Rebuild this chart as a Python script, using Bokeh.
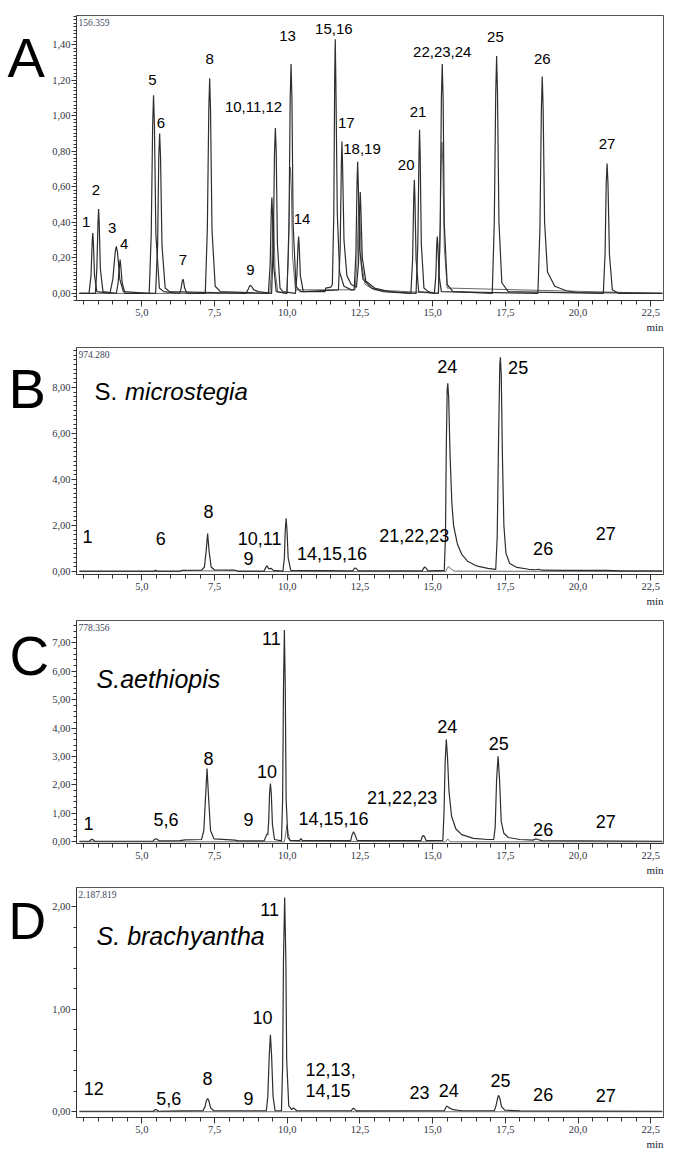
from bokeh.plotting import figure
from bokeh.layouts import column, row
from bokeh.models import Range1d, SingleIntervalTicker, CustomJSTickFormatter, Label, Title
from bokeh.core.properties import value
from bokeh.embed import file_html
from bokeh.resources import INLINE

X_START, X_END = 2.75, 22.94

# ---------------- Panel A (standards overlay) ----------------
A1 = [(2.85,0.0),(3.18,0.0),(3.25,0.10),(3.29,0.29),(3.31,0.34),(3.33,0.29),(3.37,0.10),(3.45,0.01),
      (3.90,0.0),(4.00,0.08),(4.08,0.23),(4.12,0.265),(4.16,0.23),(4.24,0.08),(4.36,0.01),
      (5.25,0.0),(5.32,0.33),(5.37,0.95),(5.40,1.115),(5.43,0.95),(5.48,0.33),(5.60,0.03),(5.75,0.01),
      (6.30,0.0),(6.35,0.03),(6.39,0.07),(6.41,0.08),(6.43,0.07),(6.47,0.03),(6.55,0.0),
      (7.18,0.0),(7.25,0.36),(7.30,1.03),(7.33,1.21),(7.36,1.03),(7.41,0.36),(7.52,0.04),(7.70,0.01),
      (9.35,0.0),(9.41,0.16),(9.45,0.46),(9.47,0.54),(9.49,0.46),(9.53,0.16),(9.62,0.01),
      (9.99,0.0),(10.06,0.39),(10.10,1.10),(10.13,1.29),(10.16,1.10),(10.20,0.39),(10.30,0.04),(10.45,0.01),
      (11.30,0.01),(11.32,0.03),(11.50,0.035),(11.55,0.05),(11.60,0.45),(11.63,1.20),(11.65,1.43),(11.67,1.20),
      (11.72,0.45),(11.80,0.12),(11.95,0.04),(12.20,0.02),
      (12.30,0.02),(12.36,0.22),(12.40,0.63),(12.42,0.74),(12.44,0.63),(12.49,0.25),(12.60,0.08),(12.90,0.03),(13.30,0.01),
      (14.25,0.0),(14.31,0.19),(14.35,0.54),(14.37,0.64),(14.39,0.54),(14.43,0.19),(14.52,0.01),
      (15.20,0.0),(15.26,0.39),(15.30,1.10),(15.33,1.29),(15.36,1.10),(15.40,0.39),(15.50,0.05),(15.70,0.01),
      (17.05,0.0),(17.12,0.40),(17.17,1.13),(17.20,1.335),(17.23,1.13),(17.28,0.40),(17.38,0.06),(17.60,0.01),
      (20.87,0.0),(20.93,0.22),(20.97,0.62),(21.00,0.73),(21.03,0.62),(21.08,0.22),(21.18,0.02),(21.40,0.0),
      (22.90,0.0)]
A2 = [(2.85,0.0),(3.40,0.0),(3.45,0.14),(3.49,0.40),(3.51,0.475),(3.53,0.40),(3.57,0.14),(3.66,0.01),
      (4.12,0.0),(4.18,0.06),(4.23,0.16),(4.25,0.19),(4.27,0.16),(4.32,0.06),(4.42,0.0),
      (5.47,0.0),(5.54,0.27),(5.58,0.77),(5.61,0.90),(5.64,0.77),(5.69,0.27),(5.80,0.03),(5.95,0.01),
      (8.58,0.0),(8.66,0.025),(8.71,0.043),(8.73,0.045),(8.77,0.04),(8.85,0.02),(9.00,0.01),
      (9.46,0.0),(9.52,0.28),(9.56,0.79),(9.59,0.93),(9.62,0.79),(9.66,0.28),(9.75,0.03),(9.85,0.01),
      (10.28,0.0),(10.33,0.10),(10.37,0.27),(10.39,0.32),(10.41,0.27),(10.45,0.10),(10.55,0.01),
      (11.76,0.02),(11.82,0.26),(11.86,0.73),(11.88,0.855),(11.90,0.73),(11.95,0.30),(12.05,0.10),(12.20,0.05),(12.38,0.035),
      (12.45,0.17),(12.49,0.48),(12.51,0.57),(12.53,0.48),(12.58,0.20),(12.70,0.07),(13.00,0.03),(13.50,0.01),
      (14.43,0.0),(14.49,0.28),(14.53,0.78),(14.55,0.92),(14.57,0.78),(14.61,0.28),(14.70,0.03),(14.85,0.01),
      (15.06,0.0),(15.11,0.10),(15.14,0.27),(15.16,0.32),(15.18,0.27),(15.22,0.10),(15.30,0.01),
      (18.62,0.0),(18.69,0.37),(18.74,1.04),(18.77,1.22),(18.80,1.04),(18.85,0.40),(18.95,0.12),(19.20,0.04),
      (19.60,0.015),(20.00,0.005),(22.90,0.0)]
A3 = [(2.85,0.0),(9.40,0.0),(9.46,0.13),(9.50,0.38),(9.52,0.45),(9.54,0.38),(9.58,0.13),(9.67,0.01),
      (9.98,0.0),(10.04,0.21),(10.08,0.60),(10.11,0.71),(10.14,0.60),(10.18,0.21),(10.28,0.02),
      (12.33,0.02),(12.39,0.15),(12.44,0.42),(12.47,0.50),(12.50,0.42),(12.55,0.17),(12.68,0.05),(13.00,0.02),
      (15.19,0.0),(15.25,0.25),(15.29,0.72),(15.32,0.85),(15.35,0.72),(15.40,0.26),(15.50,0.03),(22.90,0.0)]
A_labels = ["1","2","3","4","5","6","7","8","9","10,11,12","13","14","15,16","17","18,19",
            "20","21","22,23,24","25","26","27"]
A_lab_t = [3.08,3.42,3.98,4.39,5.36,5.65,6.41,7.33,8.73,8.84,10.01,10.51,11.60,12.03,12.57,
           14.09,14.50,15.33,17.16,18.77,21.00]
A_lab_y = [0.40,0.58,0.37,0.28,1.20,0.96,0.19,1.32,0.13,1.05,1.45,0.42,1.49,0.96,0.81,
           0.72,1.02,1.36,1.44,1.32,0.84]

# ---------------- Panel B: S. microstegia ----------------
B1 = [(2.85,0.02),(5.40,0.02),(5.47,0.06),(5.52,0.02),(6.30,0.02),(6.40,0.05),(7.05,0.06),(7.15,0.2),
      (7.21,0.9),(7.26,1.65),(7.31,0.9),(7.38,0.2),(7.50,0.07),(8.20,0.06),(8.30,0.02),(9.20,0.02),
      (9.26,0.18),(9.30,0.25),(9.36,0.12),(9.45,0.14),(9.52,0.05),(9.85,0.02),(9.90,0.6),(9.93,1.8),
      (9.96,2.32),(9.99,1.8),(10.03,0.6),(10.12,0.05),(12.25,0.03),(12.30,0.12),(12.34,0.16),(12.38,0.12),
      (12.45,0.03),(14.64,0.03),(14.69,0.15),(14.73,0.2),(14.77,0.15),(14.84,0.03),(15.40,0.05),
      (15.44,1.5),(15.47,5.5),(15.50,7.9),(15.52,8.19),(15.55,7.6),(15.60,5.0),(15.66,3.0),(15.72,2.0),
      (15.85,1.2),(16.00,0.75),(16.20,0.45),(16.50,0.25),(16.90,0.14),(17.17,0.1),(17.22,1.5),(17.27,6.0),
      (17.31,9.0),(17.33,9.32),(17.36,8.5),(17.40,5.0),(17.45,2.0),(17.52,0.8),(17.65,0.35),(17.90,0.18),
      (18.30,0.1),(18.55,0.08),(18.65,0.10),(18.75,0.06),(19.50,0.05),(21.00,0.05),(21.50,0.03),(22.90,0.03)]
B2 = [(2.85,0.0),(6.30,0.0),(6.35,0.03),(8.25,0.03),(8.30,0.0),(15.45,0.0),(15.50,0.15),(15.55,0.22),
      (15.62,0.12),(15.75,0.02),(22.90,0.0)]
B_labels = ["1","6","8","9","10,11","14,15,16","21,22,23","24","25","26","27"]
B_lab_t = [3.13,5.65,7.29,8.67,9.05,11.54,14.37,15.50,17.94,18.80,20.95]
B_lab_y = [1.52,1.42,2.62,0.55,1.42,0.77,1.56,8.91,8.86,0.99,1.64]

# ---------------- Panel C: S. aethiopis ----------------
C1 = [(2.85,0.02),(3.20,0.02),(3.25,0.07),(3.28,0.09),(3.32,0.07),(3.38,0.02),(5.38,0.02),(5.44,0.09),
      (5.48,0.11),(5.52,0.09),(5.60,0.03),(6.30,0.04),(6.50,0.07),(7.05,0.08),(7.13,0.4),(7.19,1.6),
      (7.24,2.58),(7.29,1.6),(7.36,0.4),(7.48,0.1),(8.20,0.06),(8.30,0.03),(9.20,0.03),(9.27,0.2),
      (9.30,0.27),(9.33,0.25),(9.36,0.7),(9.39,1.7),(9.42,2.05),(9.45,1.7),(9.49,0.6),(9.56,0.08),
      (9.80,0.03),(9.84,1.5),(9.87,5.5),(9.90,7.45),(9.93,5.5),(9.96,1.5),(10.02,0.15),(10.10,0.05),
      (10.42,0.04),(10.47,0.11),(10.52,0.04),(12.18,0.04),(12.23,0.25),(12.28,0.35),(12.33,0.25),
      (12.40,0.05),(14.60,0.04),(14.64,0.18),(14.68,0.23),(14.72,0.18),(14.78,0.04),(15.35,0.05),
      (15.39,1.0),(15.43,2.8),(15.47,3.6),(15.51,3.0),(15.56,1.8),(15.65,0.9),(15.80,0.45),(16.00,0.25),
      (16.40,0.12),(16.90,0.08),(17.10,0.08),(17.15,0.5),(17.20,2.2),(17.25,3.01),(17.30,2.2),(17.36,0.7),
      (17.45,0.3),(17.60,0.15),(18.00,0.08),(18.45,0.06),(18.52,0.09),(18.56,0.1),(18.62,0.08),
      (18.75,0.04),(22.90,0.02)]
C2 = [(2.85,0.0),(9.90,0.0),(9.95,0.3),(9.99,0.6),(10.03,0.3),(10.10,0.02),(15.45,0.0),(15.52,0.1),
      (15.60,0.0),(22.90,0.0)]
C_labels = ["1","5,6","8","9","10","11","14,15,16","21,22,23","24","25","26","27"]
C_lab_t = [3.16,5.83,7.29,8.67,9.30,9.45,11.59,13.95,15.50,17.27,18.80,20.95]
C_lab_y = [0.65,0.77,2.93,0.77,2.49,7.14,0.83,1.55,4.04,3.46,0.45,0.71]

# ---------------- Panel D: S. brachyantha ----------------
D1 = [(2.85,0.005),(5.40,0.005),(5.44,0.018),(5.47,0.022),(5.51,0.018),(5.58,0.005),(6.30,0.008),
      (7.10,0.01),(7.17,0.05),(7.22,0.11),(7.26,0.13),(7.30,0.11),(7.36,0.04),(7.46,0.012),(8.20,0.01),
      (9.28,0.01),(9.33,0.15),(9.38,0.55),(9.42,0.75),(9.46,0.55),(9.51,0.15),(9.58,0.01),(9.80,0.01),
      (9.84,0.45),(9.87,1.5),(9.91,2.09),(9.95,1.5),(9.98,0.5),(10.05,0.06),(10.15,0.02),(10.20,0.035),
      (10.25,0.03),(10.32,0.01),(12.20,0.01),(12.25,0.03),(12.28,0.035),(12.33,0.02),(12.40,0.008),
      (15.40,0.01),(15.45,0.04),(15.50,0.055),(15.56,0.04),(15.70,0.02),(16.00,0.01),(17.12,0.01),
      (17.18,0.06),(17.24,0.14),(17.27,0.16),(17.31,0.13),(17.37,0.05),(17.48,0.015),(18.00,0.008),
      (22.90,0.005)]
D2 = [(2.85,0.0),(22.90,0.0)]
D_labels = ["12","5,6","8","9","10","11","12,13,","14,15","23","24","25","26","27"]
D_lab_t = [3.34,5.92,7.26,8.67,9.15,9.39,11.49,11.40,14.55,15.55,17.33,18.80,20.95]
D_lab_y = [0.224,0.126,0.321,0.126,0.917,1.97,0.409,0.207,0.185,0.207,0.305,0.165,0.158]

SERIF = "Liberation Serif"
SANS = "Liberation Sans"
LETTER_W = 48


def make_panel(height, b_top, b_bottom, y0, y1, y_int, y_minor, header, main, extras,
               labels, lab_t, lab_y, lab_size, letter, letter_x, letter_base, letter_size):
    # narrow figure that only holds the panel letter
    q = figure(width=LETTER_W, height=height, x_range=Range1d(0, LETTER_W), y_range=Range1d(0, height),
               output_backend="svg", toolbar_location=None, x_axis_location=None, y_axis_location=None,
               min_border_left=0, min_border_right=0, min_border_top=0, min_border_bottom=0)
    q.xgrid.visible = False
    q.ygrid.visible = False
    q.outline_line_color = None
    q.add_layout(Label(x=letter_x, y=height - letter_base, text=letter, text_font=SANS,
                       text_font_size=letter_size, text_color="black",
                       text_baseline="alphabetic", text_align="left"))

    p = figure(width=674 - LETTER_W, height=height, x_range=Range1d(X_START, X_END), y_range=Range1d(y0, y1),
               output_backend="svg", toolbar_location=None,
               min_border_left=76 - LETTER_W, min_border_right=11, min_border_top=b_top, min_border_bottom=b_bottom)
    p.xgrid.visible = False
    p.ygrid.visible = False
    p.outline_line_color = "#555555"
    p.outline_line_width = 1
    p.background_fill_color = "white"
    p.border_fill_color = "white"

    p.xaxis.ticker = SingleIntervalTicker(interval=2.5, num_minor_ticks=5)
    p.yaxis.ticker = SingleIntervalTicker(interval=y_int, num_minor_ticks=y_minor)
    p.xaxis.formatter = CustomJSTickFormatter(code="return tick.toFixed(1).replace('.', ',');")
    p.yaxis.formatter = CustomJSTickFormatter(code="return tick.toFixed(2).replace('.', ',');")
    for ax in (p.xaxis, p.yaxis):
        ax.axis_line_color = "#333333"
        ax.major_tick_line_color = "#333333"
        ax.minor_tick_line_color = "#333333"
        ax.major_tick_in = 0
        ax.minor_tick_in = 0
        ax.major_label_text_font = SERIF
        ax.major_label_text_font_size = "10.5px"
        ax.major_label_text_color = "#333344"
    p.xaxis.major_tick_out = 6
    p.xaxis.minor_tick_out = 4
    p.xaxis.major_label_standoff = 2
    p.yaxis.major_tick_out = 5
    p.yaxis.minor_tick_out = 3
    p.yaxis.major_label_standoff = 1

    for tr in extras:
        p.line([r[0] for r in tr], [r[1] for r in tr], line_color="#6a6a6a", line_width=1.0)
    for tr in main:
        p.line([r[0] for r in tr], [r[1] for r in tr], line_color="#2e2e2e", line_width=1.2)

    p.text(x=lab_t, y=lab_y, text=labels, text_font=value(SANS), text_font_size=lab_size,
           text_align="center", text_baseline="middle", text_color="black")

    p.add_layout(Label(x=X_START, y=y1, x_offset=2, y_offset=-3, text=header, text_font=SERIF,
                       text_font_size="9.5px", text_color="#3c4658", text_baseline="top", text_align="left"))
    p.add_layout(Title(text="min", align="right", text_font=SERIF, text_font_size="11px",
                       text_font_style="normal", text_color="#222233", standoff=0, offset=0), "below")
    return p, row(q, p, spacing=0)


def species(p, x, y, txt, size, style):
    p.add_layout(Label(x=x, y=y, text=txt, text_font=SANS, text_font_size=size, text_color="black",
                       text_font_style=style, text_baseline="alphabetic", text_align="left"))


pA, rA = make_panel(340, 15, 40, -0.04, 1.56359, 0.2, 10, "156.359", [A1, A2], [A3],
                    A_labels, A_lab_t, A_lab_y, "15px", "A", 7, 50, "56px")
pB, rB = make_panel(268, 7, 34, -0.127, 9.7428, 2, 10, "974.280", [B1], [B2],
                    B_labels, B_lab_t, B_lab_y, "18px", "B", 8, 48, "56px")
species(pB, 3.37, 7.83, "S.", "24px", "normal")
species(pB, 4.42, 7.83, "microstegia", "24px", "italic")
pC, rC = make_panel(272, 12, 37, -0.06, 7.78356, 1, 5, "778.356", [C1], [C2],
                    C_labels, C_lab_t, C_lab_y, "18px", "C", 9, 43, "55px")
species(pC, 3.44, 5.71, "S.aethiopis", "25px", "italic")
pD, rD = make_panel(272, 7, 35, -0.056, 2.187819, 1, 5, "2.187.819", [D1], [D2],
                    D_labels, D_lab_t, D_lab_y, "18px", "D", 8, 40, "52px")
species(pD, 3.44, 1.71, "S. brachyantha", "25px", "italic")

layout = column(rA, rB, rC, rD, spacing=0)
open("out.html", "w").write(file_html(layout, INLINE))
